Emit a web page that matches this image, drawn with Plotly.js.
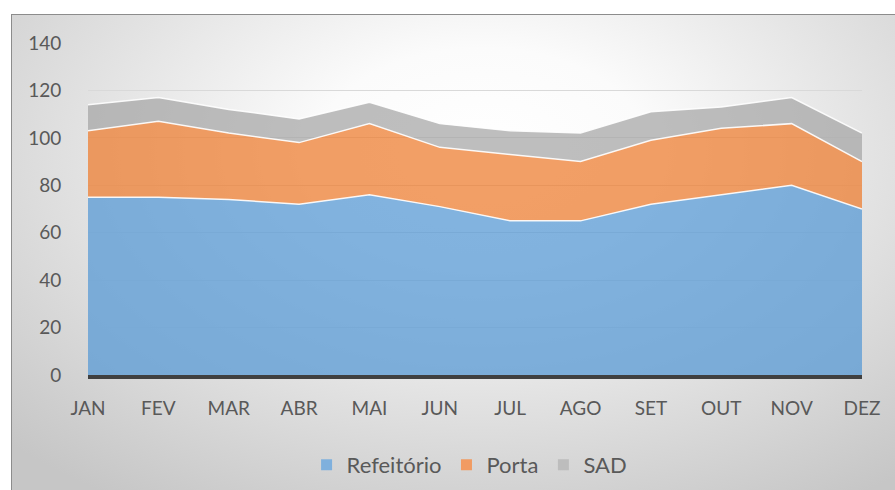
<!DOCTYPE html>
<html>
<head>
<meta charset="utf-8">
<script src="https://cdn.plot.ly/plotly-3.0.1.min.js"></script>
<style>
  html, body { margin: 0; padding: 0; background: #ffffff; width: 895px; height: 490px; overflow: hidden; }
  #frame {
    position: absolute; left: 11px; top: 14px; width: 890px; height: 490px;
    border: 1px solid #8c8c8c; box-sizing: border-box;
    background: radial-gradient(ellipse 75% 85% at 53% 28%, #ffffff 0%, #fbfbfb 25%, #e2e2e2 60%, #c6c6c6 100%);
  }
  #chart { position: absolute; left: 0; top: 0; width: 895px; height: 490px; }
</style>
</head>
<body>
<div id="frame"></div>
<div id="chart"></div>
<script>
const months = ["JAN","FEV","MAR","ABR","MAI","JUN","JUL","AGO","SET","OUT","NOV","DEZ"];
const refeitorio = [75, 75, 74, 72, 76, 71, 65, 65, 72, 76, 80, 70];
const porta      = [28, 32, 28, 26, 30, 25, 28, 25, 27, 28, 26, 20];
const sad        = [11, 10, 10, 10,  9, 10, 10, 12, 12,  9, 11, 12];
const seriesNames = ["Refeitório", "Porta", "SAD"];
const yTicks = [0, 20, 40, 60, 80, 100, 120, 140];

const fills = ["rgba(91,155,213,0.76)", "rgba(237,125,49,0.74)", "rgba(165,165,165,0.72)"];
const swatch = ["#7fb0dd", "#f19b62", "#bdbdbd"];
const values = [refeitorio, porta, sad];

const traces = values.map((v, i) => ({
  type: "scatter",
  x: months,
  y: v,
  stackgroup: "one",
  mode: "lines",
  line: { color: "rgba(255,255,255,0.9)", width: 1.5 },
  fillcolor: fills[i],
  name: seriesNames[i],
  showlegend: false,
  hoverinfo: "x+y+name"
}));

const legendTraces = seriesNames.map((n, i) => ({
  type: "scatter",
  x: [null], y: [null],
  mode: "markers",
  marker: { symbol: "square", size: 11, color: swatch[i] },
  name: n,
  showlegend: true
}));

const font = { family: "Lato, 'Open Sans', sans-serif", size: 19, color: "#595959" };

const layout = {
  width: 895, height: 490,
  margin: { l: 88, r: 33, t: 43, b: 115, autoexpand: false },
  paper_bgcolor: "rgba(0,0,0,0)",
  plot_bgcolor: "rgba(0,0,0,0)",
  font: font,
  showlegend: true,
  legend: {
    orientation: "h", x: 0.493, xanchor: "center",
    yref: "container", y: 0.051, yanchor: "middle",
    traceorder: "normal",
    font: { family: font.family, size: 22, color: "#595959" },
    itemwidth: 30, bgcolor: "rgba(0,0,0,0)"
  },
  xaxis: {
    type: "category",
    range: [0, 11],
    showgrid: false,
    showline: true, linecolor: "#404040", linewidth: 3.5,
    ticks: "outside", ticklen: 14, tickcolor: "rgba(0,0,0,0)",
    tickfont: font,
    fixedrange: true
  },
  yaxis: {
    range: [0, 140],
    tickvals: yTicks,
    showgrid: true, gridcolor: "#d9d9d9", gridwidth: 1,
    zeroline: false,
    showline: false,
    ticks: "outside", ticklen: 22, tickcolor: "rgba(0,0,0,0)",
    tickfont: font,
    fixedrange: true
  }
};

Plotly.newPlot("chart", traces.concat(legendTraces), layout, { displayModeBar: false, staticPlot: true });
</script>
</body>
</html>
